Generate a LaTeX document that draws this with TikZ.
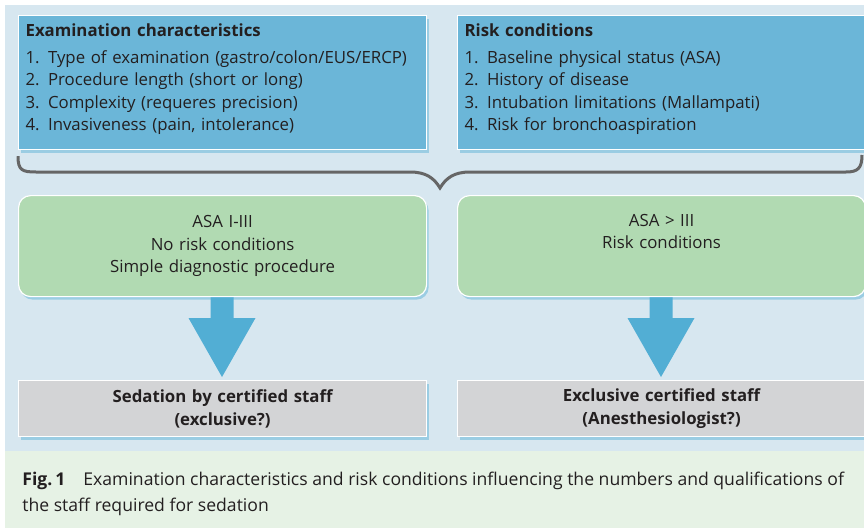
\documentclass[tikz,border=0pt]{standalone}
\usepackage{fontspec}
\setmainfont{Open Sans}
\usetikzlibrary{calc,shadows}

\definecolor{bgblue}{HTML}{D7E7F0}
\definecolor{capgreen}{HTML}{E6F2E5}
\definecolor{boxblue}{HTML}{6BB6D8}
\definecolor{boxgreen}{HTML}{B1DAB2}
\definecolor{boxgray}{HTML}{D3D4D6}
\definecolor{arrowblue}{HTML}{52AED4}
\definecolor{bracegray}{HTML}{666666}
\definecolor{txt}{HTML}{231F20}

\tikzset{
  box/.style={draw=white, line width=0.6pt, anchor=north west, inner xsep=3.5pt,
    inner ysep=0pt, text=txt, font=\fontsize{8.4pt}{11.3pt}\selectfont,
    drop shadow={shadow xshift=1pt, shadow yshift=-1.5pt, fill=arrowblue, opacity=0.45}},
  infobox/.style={box, fill=boxblue, minimum width=204pt, minimum height=67pt,
    text width=197pt, align=left},
  casebox/.style={box, fill=boxgreen, rounded corners=6pt, minimum width=204pt,
    minimum height=50.5pt, text width=197pt, align=center},
  staffbox/.style={box, fill=boxgray, minimum width=204pt, minimum height=28pt,
    text width=197pt, align=center, font=\fontsize{8.4pt}{11.5pt}\selectfont\bfseries},
  brace/.style={draw=bracegray, line width=1.5pt},
  blockarrow/.style={fill=arrowblue},
}

\begin{document}
\begin{tikzpicture}[x=0.5pt,y=-0.5pt]
    \useasboundingbox (0,0) rectangle (864,530);
    \fill[white] (0,0) rectangle (864,530);
    \fill[bgblue] (5,5) rectangle (864,451);
    \fill[capgreen] (5,451) rectangle (864,528);

    % Pfeile zuerst, damit der Schatten der Boxen darueber liegt
    \coordinate (a1) at (222,296);
    \coordinate (a2) at (661,296);
    \foreach \a in {a1,a2}
      \fill[blockarrow] ($(\a)+(-11.5,-2)$) -- ++(23,0) -- ++(0,24) -- ++(22,0)
        -- ($(\a)+(0,81)$) -- ($(\a)+(-33.5,22)$) -- ++(22,0) -- cycle;

    % obere Boxen
    \node[infobox] (exam) at (18,15) {\textbf{Examination characteristics}\\[2pt]
      1. Type of examination (gastro/colon/EUS/ERCP)\\
      2. Procedure length (short or long)\\
      3. Complexity (requeres precision)\\
      4. Invasiveness (pain, intolerance)\\[-6pt]\mbox{}};
    \node[infobox] (risk) at (457,15) {\textbf{Risk conditions}\\[2pt]
      1. Baseline physical status (ASA)\\
      2. History of disease\\
      3. Intubation limitations (Mallampati)\\
      4. Risk for bronchoaspiration\\[-6pt]\mbox{}};

    % Klammer
    \coordinate (tip) at (440,188);
    \draw[brace] ($(exam.south west)+(0,6)$) .. controls ++(0,14) and (22,172) .. (36,172)
      -- (410,172) .. controls (426,172) and (434,178) .. (tip)
      .. controls (446,178) and (454,172) .. (470,172)
      -- (846,172) .. controls (858,172) and (862,168) .. (862,155);

    % mittlere Boxen
    \node[casebox] (lowrisk) at (18,195) {ASA I-III\\No risk conditions\\Simple diagnostic procedure};
    \node[casebox] (highrisk) at (457,195) {ASA > III\\Risk conditions\\\strut};

    % untere Boxen
    \node[staffbox] (sedation) at (18,380) {Sedation by certified staff\\(exclusive?)};
    \node[staffbox] (anest) at (457,380) {Exclusive certified staff\\(Anesthesiologist?)};

    % Bildunterschrift
    \node[anchor=north west, inner sep=0pt, align=left, text=txt,
      font=\fontsize{8.8pt}{12.6pt}\selectfont] (caption) at (22,472)
      {\textbf{Fig.\,1}\hspace{9pt}Examination characteristics and risk conditions influencing the numbers and qualifications of\\
       the staff required for sedation};
\end{tikzpicture}
\end{document}
